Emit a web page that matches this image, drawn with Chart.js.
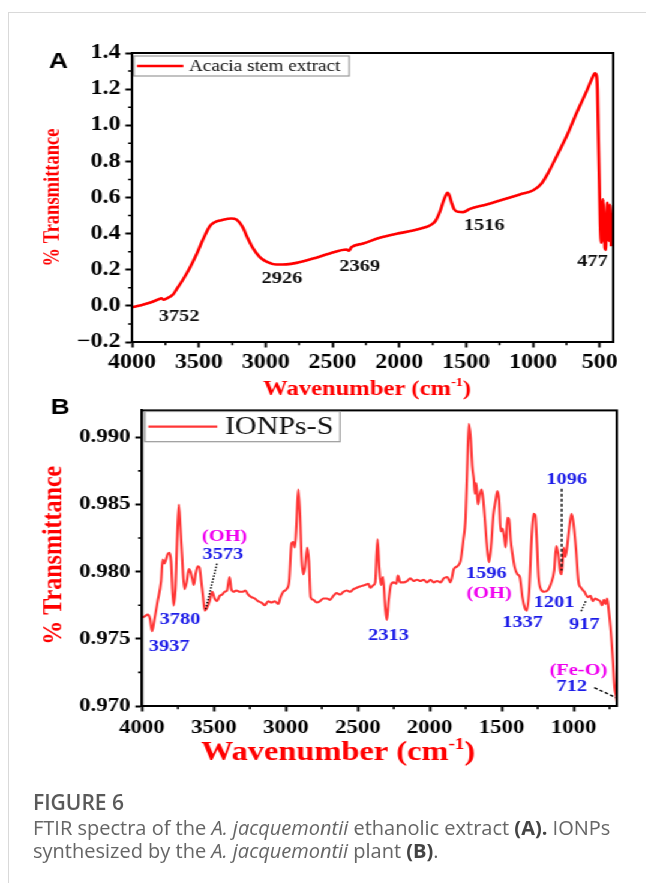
<!DOCTYPE html>
<html>
<head>
<meta charset="utf-8">
<script src="https://cdn.jsdelivr.net/npm/chart.js@4.4.1/dist/chart.umd.min.js"></script>
<style>
  html, body { margin: 0; padding: 0; background: #fff; }
  body { width: 646px; height: 883px; position: relative; overflow: hidden; }
  #ruleTop { position: absolute; left: 8px; top: 12px; width: 638px; height: 1px; background: #d9d9d9; }
  #ruleLeft { position: absolute; left: 8px; top: 12px; width: 1px; height: 871px; background: #d9d9d9; }
  #figure { position: absolute; left: 0; top: 0; width: 538px; height: 792px; transform: scaleX(1.2); transform-origin: 0 0; }
  #chartA { position: absolute; left: 0; top: 30px; }
  #chartB { position: absolute; left: 0; top: 395px; }
  #caption { position: absolute; left: 33px; top: 791px; font-family: "Open Sans", "Noto Sans", sans-serif; color: #666; font-size: 20px; line-height: 23px; }
  #caption .fig { font-weight: 600; font-size: 21px; margin-bottom: 2px; color: #5a5a5a; }
  #caption b { font-weight: 700; color: #444; }
</style>
</head>
<body>
<div id="ruleTop"></div>
<div id="ruleLeft"></div>
<div id="figure">
  <canvas id="chartA" width="538" height="370"></canvas>
  <canvas id="chartB" width="538" height="395"></canvas>
</div>
<div id="caption">
  <div class="fig">FIGURE 6</div>
  <div>FTIR spectra of the <i>A. jacquemontii</i> ethanolic extract <b>(A).</b> IONPs<br>synthesized by the <i>A. jacquemontii</i> plant <b>(B)</b>.</div>
</div>

<script>
// ---------- Panel A: Acacia stem extract ----------
const wavenumberA = [
  4000, 3942, 3868, 3805, 3780, 3763, 3743, 3693, 3668, 3618, 3568, 3518, 3469, 3418,
  3381, 3331, 3256, 3219, 3169, 3144, 3094, 3044, 2994, 2919, 2844, 2769, 2645, 2520,
  2395, 2378, 2358, 2271, 2146, 2021, 1897, 1800, 1772, 1730, 1697, 1670, 1650, 1639,
  1625, 1609, 1590, 1560, 1522, 1472, 1347, 1223, 1098, 998, 936, 886, 823, 748, 673,
  599, 561, 537, 525, 518, 512, 504, 497, 488, 482, 476, 470, 462, 456, 450, 444, 438,
  432, 428, 424, 420, 415
];
const transmittanceA = [
  -0.008, 0.002, 0.017, 0.035, 0.042, 0.034, 0.040, 0.063, 0.090, 0.146, 0.210, 0.284, 0.367, 0.441,
  0.463, 0.474, 0.484, 0.478, 0.432, 0.390, 0.318, 0.270, 0.245, 0.229, 0.230, 0.238, 0.262, 0.290,
  0.312, 0.305, 0.325, 0.345, 0.377, 0.399, 0.417, 0.437, 0.445, 0.470, 0.520, 0.580, 0.615, 0.626,
  0.610, 0.571, 0.535, 0.521, 0.519, 0.537, 0.561, 0.589, 0.617, 0.640, 0.678, 0.737, 0.829, 0.940, 1.069,
  1.189, 1.254, 1.287, 1.275, 1.200, 0.980, 0.700, 0.450, 0.350, 0.500, 0.590, 0.480, 0.320,
  0.310, 0.470, 0.570, 0.500, 0.360, 0.450, 0.560, 0.500, 0.330
];
const xTicksA = [4000, 3500, 3000, 2500, 2000, 1500, 1000, 500];
const xMinorA = [3750, 3250, 2750, 2250, 1750, 1250, 750];
const yTicksA = [-0.2, 0.0, 0.2, 0.4, 0.6, 0.8, 1.0, 1.2, 1.4];
const yMinorA = [-0.1, 0.1, 0.3, 0.5, 0.7, 0.9, 1.1, 1.3];
const peakTextA = ['3752', '2926', '2369', '1516', '477'];
const peakAtA = [[3648, -0.058], [2877, 0.151], [2296, 0.219], [1365, 0.447], [554, 0.247]];

// ---------- Panel B: IONPs-S ----------
const wavenumberB = [
  4000, 3984, 3960, 3944, 3930, 3914, 3891, 3867, 3856, 3844, 3833, 3821, 3809, 3798,
  3781, 3767, 3758, 3744, 3733, 3721, 3705, 3688, 3674, 3663, 3651, 3639, 3628, 3612,
  3600, 3588, 3577, 3563, 3549, 3530, 3512, 3495, 3479, 3460, 3442, 3426, 3409, 3391,
  3379, 3363, 3344, 3321, 3298, 3281, 3263, 3239, 3216, 3193, 3170, 3146, 3123, 3100,
  3077, 3053, 3037, 3018, 2995, 2977, 2960, 2949, 2937, 2925, 2914, 2902, 2891, 2879,
  2867, 2851, 2840, 2828, 2809, 2786, 2763, 2739, 2716, 2693, 2670, 2647, 2623, 2600,
  2577, 2553, 2530, 2507, 2484, 2449, 2426, 2414, 2391, 2379, 2363, 2351, 2339, 2325,
  2309, 2298, 2286, 2270, 2251, 2232, 2221, 2205, 2181, 2158, 2135, 2112, 2088, 2065,
  2042, 2019, 1995, 1972, 1949, 1925, 1902, 1879, 1856, 1832, 1809, 1786, 1767, 1751,
  1739, 1728, 1716, 1704, 1693, 1686, 1677, 1665, 1651, 1639, 1628, 1616, 1604, 1588,
  1572, 1558, 1542, 1530, 1518, 1507, 1495, 1483, 1472, 1460, 1449, 1437, 1425, 1409,
  1390, 1374, 1356, 1339, 1325, 1309, 1293, 1279, 1267, 1255, 1244, 1228, 1204, 1181,
  1158, 1135, 1121, 1107, 1093, 1084, 1069, 1058, 1046, 1030, 1014, 1000, 983, 967,
  949, 925, 902, 883, 867, 851, 832, 816, 802, 790, 779, 767, 758, 744, 727, 716, 704, 700
];
const transmittanceB = [
  0.9766, 0.97665, 0.9768, 0.9765, 0.97556, 0.9764, 0.9778, 0.9793, 0.9809, 0.9806, 0.9809, 0.9813, 0.9814, 0.9808,
  0.97747, 0.9788, 0.9816, 0.9850, 0.9833, 0.9811, 0.9787, 0.9793, 0.9802, 0.9800, 0.9795, 0.9790, 0.9798, 0.9804,
  0.9803, 0.9793, 0.9783, 0.9771, 0.9773, 0.9778, 0.9785, 0.9780, 0.9778, 0.9782, 0.9783, 0.9785, 0.9786, 0.9796,
  0.9787, 0.9785, 0.9786, 0.9785, 0.9785, 0.9786, 0.9783, 0.9781, 0.9780, 0.9778, 0.9777, 0.9775, 0.9778, 0.9777,
  0.9778, 0.9776, 0.9781, 0.9785, 0.9787, 0.9793, 0.9821, 0.9822, 0.9818, 0.9838, 0.9861, 0.9843, 0.9811, 0.9798,
  0.9803, 0.9818, 0.9808, 0.9781, 0.9779, 0.9777, 0.9778, 0.9780, 0.9780, 0.9779, 0.9782, 0.9784, 0.9783, 0.9785,
  0.9786, 0.9785, 0.9787, 0.9788, 0.9789, 0.9790, 0.9791, 0.9788, 0.9790, 0.9792, 0.9824, 0.9803, 0.9790, 0.9796,
  0.9773, 0.9764, 0.9778, 0.9790, 0.9792, 0.9791, 0.9797, 0.9792, 0.9792, 0.9793, 0.9795, 0.9793, 0.9794, 0.9793,
  0.9794, 0.9792, 0.9794, 0.9792, 0.9793, 0.9792, 0.9795, 0.9796, 0.9792, 0.9802, 0.9804, 0.9808, 0.9823, 0.9840,
  0.9878, 0.9910, 0.9900, 0.9878, 0.9868, 0.9858, 0.9866, 0.9850, 0.9858, 0.9861, 0.9853, 0.9838, 0.9821, 0.9807,
  0.9821, 0.9842, 0.9853, 0.9860, 0.9853, 0.9830, 0.9832, 0.9826, 0.9818, 0.9840, 0.9839, 0.9823, 0.9813, 0.9803,
  0.9798, 0.9796, 0.9781, 0.9773, 0.9771, 0.9786, 0.9823, 0.9843, 0.9842, 0.9821, 0.9796, 0.9787, 0.9785, 0.9786,
  0.9791, 0.9801, 0.9819, 0.9813, 0.9800, 0.9798, 0.9818, 0.9811, 0.9818, 0.9833, 0.9843, 0.9835, 0.9816, 0.9793,
  0.9788, 0.9785, 0.9781, 0.9782, 0.9778, 0.9780, 0.9779, 0.9778, 0.9775, 0.9779, 0.9776, 0.9780, 0.9773, 0.9759, 0.9734, 0.9714, 0.9707, 0.9703
];
const xTicksB = [4000, 3500, 3000, 2500, 2000, 1500, 1000];
const xMinorB = [3750, 3250, 2750, 2250, 1750, 1250, 750];
const yTicksB = [0.970, 0.975, 0.980, 0.985, 0.990];
const yMinorB = [0.9725, 0.9775, 0.9825, 0.9875];
const peakTextB = ['(OH)', '3573', '3780', '3937', '2313', '1596', '(OH)', '1337', '1201', '917', '1096', '(Fe-O)', '712'];
const peakAtB = [
  [3426, 0.98257], [3438, 0.98128], [3735, 0.97645], [3810, 0.97439], [2286, 0.97526],
  [1606, 0.97984], [1588, 0.97840], [1355, 0.97617], [1135, 0.97773], [925, 0.97607],
  [1048, 0.98683], [967, 0.97265], [1013, 0.97141]
];
const peakColourB = ['#f000f0', '#1c1ce8', '#1c1ce8', '#1c1ce8', '#1c1ce8', '#1c1ce8', '#f000f0',
  '#1c1ce8', '#1c1ce8', '#1c1ce8', '#1c1ce8', '#f000f0', '#1c1ce8'];
// leader lines from labels to their bands: [x1, y1, x2, y2, dash]
const leadersB = [
  [3479, 0.98059, 3558, 0.97717, [1.5, 1.5]],
  [1083, 0.98616, 1083, 0.98009, [3, 2]],
  [948, 0.97706, 913, 0.97786, [1.5, 1.5]],
  [856, 0.97137, 700, 0.97059, [3, 2]]
];

const SERIF = '"Liberation Serif", "Times New Roman", serif';

// Frame, minor ticks, legend, axis titles and band labels.
const decor = {
  id: 'decor',
  afterDraw(chart, args, o) {
    const ctx = chart.ctx;
    const a = chart.chartArea;
    const xs = chart.scales.x, ys = chart.scales.y;
    ctx.save();

    // minor tick marks
    ctx.strokeStyle = '#000';
    ctx.lineWidth = 1.6;
    ctx.beginPath();
    o.minorX.forEach(v => {
      const px = xs.getPixelForValue(v);
      ctx.moveTo(px, a.bottom); ctx.lineTo(px, a.bottom + 3.2);
    });
    o.minorY.forEach(v => {
      const py = ys.getPixelForValue(v);
      ctx.moveTo(a.left, py); ctx.lineTo(a.left - 3.2, py);
    });
    ctx.stroke();

    // box frame
    ctx.lineWidth = 2;
    ctx.strokeRect(a.left, a.top, a.right - a.left, a.bottom - a.top);

    // legend
    const ds = chart.data.datasets[0];
    const L = o.legend;
    ctx.lineWidth = 1.2;
    ctx.strokeStyle = '#9a9a9a';
    ctx.strokeRect(L.x0, L.y0, L.x1 - L.x0, L.y1 - L.y0);
    const ly = (L.y0 + L.y1) / 2;
    ctx.strokeStyle = ds.borderColor;
    ctx.lineWidth = ds.borderWidth;
    ctx.beginPath(); ctx.moveTo(L.lineFrom, ly); ctx.lineTo(L.lineTo, ly); ctx.stroke();
    ctx.fillStyle = '#111';
    ctx.font = L.size + 'px ' + SERIF;
    ctx.textAlign = 'left'; ctx.textBaseline = 'middle';
    ctx.fillText(ds.label, L.textX, ly + 1);

    // panel letter
    ctx.fillStyle = '#000';
    ctx.font = 'bold 22px "Liberation Sans", Arial, sans-serif';
    ctx.textAlign = 'center'; ctx.textBaseline = 'middle';
    ctx.fillText(o.letter.text, o.letter.x, o.letter.y);

    // y title
    ctx.save();
    ctx.translate(o.yTitle.x, (a.top + a.bottom) / 2 + o.yTitle.dy);
    ctx.rotate(-Math.PI / 2);
    ctx.fillStyle = '#ff0000';
    ctx.font = 'bold ' + o.yTitle.size + 'px ' + SERIF;
    ctx.textAlign = 'center'; ctx.textBaseline = 'middle';
    ctx.fillText('% Transmittance', 0, 0);
    ctx.restore();

    // x title with superscript
    const T = o.xTitle;
    const big = 'bold ' + T.size + 'px ' + SERIF;
    const small = 'bold ' + Math.round(T.size * 0.6) + 'px ' + SERIF;
    ctx.font = big; const w1 = ctx.measureText('Wavenumber (cm').width;
    const w3 = ctx.measureText(')').width;
    ctx.font = small; const w2 = ctx.measureText('-1').width;
    let tx = T.cx - (w1 + w2 + w3) / 2;
    ctx.fillStyle = '#ff0000';
    ctx.textAlign = 'left'; ctx.textBaseline = 'alphabetic';
    ctx.font = big; ctx.fillText('Wavenumber (cm', tx, T.base); tx += w1;
    ctx.font = small; ctx.fillText('-1', tx, T.base - T.size * 0.42); tx += w2;
    ctx.font = big; ctx.fillText(')', tx, T.base);

    // leader lines
    ctx.strokeStyle = '#000';
    ctx.lineWidth = 1.4;
    (o.leaders || []).forEach(l => {
      ctx.setLineDash(l[4]);
      ctx.beginPath();
      ctx.moveTo(xs.getPixelForValue(l[0]), ys.getPixelForValue(l[1]));
      ctx.lineTo(xs.getPixelForValue(l[2]), ys.getPixelForValue(l[3]));
      ctx.stroke();
    });
    ctx.setLineDash([]);

    // band labels
    ctx.font = 'bold ' + o.labelSize + 'px ' + SERIF;
    ctx.textAlign = 'center'; ctx.textBaseline = 'middle';
    o.labels.forEach((t, i) => {
      ctx.fillStyle = o.labelColours ? o.labelColours[i] : '#111';
      ctx.fillText(t, xs.getPixelForValue(o.labelAt[i][0]), ys.getPixelForValue(o.labelAt[i][1]));
    });
    ctx.restore();
  }
};

function axisX(min, max, ticks, height, size, pad) {
  return {
    type: 'linear', reverse: true, min: min, max: max,
    afterBuildTicks: s => { s.ticks = ticks.map(v => ({ value: v })); },
    afterFit: s => { s.height = height; },
    ticks: { autoSkip: false, maxRotation: 0, padding: pad, color: '#000',
      font: { family: SERIF, size: size, weight: 'bold' }, callback: v => String(v) },
    grid: { display: true, drawOnChartArea: false, drawTicks: true, tickLength: 5.5, tickWidth: 2, tickColor: '#000' },
    border: { display: true, color: '#000', width: 2 }
  };
}
function axisY(min, max, ticks, width, size, digits) {
  return {
    type: 'linear', min: min, max: max,
    afterBuildTicks: s => { s.ticks = ticks.map(v => ({ value: v })); },
    afterFit: s => { s.width = width; },
    ticks: { padding: 4, color: '#000', font: { family: SERIF, size: size, weight: 'bold' },
      callback: v => (v < 0 ? '\u2212' + Math.abs(v).toFixed(digits) : v.toFixed(digits)) },
    grid: { display: true, drawOnChartArea: false, drawTicks: true, tickLength: 5.5, tickWidth: 2, tickColor: '#000' },
    border: { display: true, color: '#000', width: 2 }
  };
}

new Chart(document.getElementById('chartA'), {
  type: 'line',
  data: {
    datasets: [{
      label: 'Acacia stem extract',
      data: wavenumberA.map((w, i) => ({ x: w, y: transmittanceA[i] })),
      borderColor: '#ff0000', borderWidth: 2.6, pointRadius: 0,
      cubicInterpolationMode: 'monotone', fill: false
    }]
  },
  options: {
    responsive: false, animation: false, devicePixelRatio: 1,
    layout: { padding: { top: 23, right: 27, left: 0, bottom: 0 } },
    scales: {
      x: axisX(400, 4000, xTicksA, 58, 20, 3),
      y: axisY(-0.2, 1.4, yTicksA, 110, 20, 1)
    },
    plugins: {
      legend: { display: false }, tooltip: { enabled: false },
      decor: {
        minorX: xMinorA, minorY: yMinorA,
        legend: { x0: 111.7, y0: 26, x1: 291, y1: 46, lineFrom: 114.2, lineTo: 152.8, textX: 157.5, size: 16 },
        letter: { text: 'A', x: 48.6, y: 31.7 },
        yTitle: { x: 44, dy: 0, size: 18.5 },
        xTitle: { cx: 306, base: 365, size: 20.5 },
        labels: peakTextA, labelAt: peakAtA, labelSize: 17
      }
    }
  },
  plugins: [decor]
});

new Chart(document.getElementById('chartB'), {
  type: 'line',
  data: {
    datasets: [{
      label: 'IONPs-S',
      data: wavenumberB.map((w, i) => ({ x: w, y: transmittanceB[i] })),
      borderColor: '#ff3636', borderWidth: 2.1, pointRadius: 0,
      cubicInterpolationMode: 'monotone', fill: false
    }]
  },
  options: {
    responsive: false, animation: false, devicePixelRatio: 1,
    layout: { padding: { top: 15, right: 24, left: 0, bottom: 0 } },
    scales: {
      x: axisX(700, 4000, xTicksB, 84, 19, 5),
      y: axisY(0.970, 0.992, yTicksB, 118.3, 19, 3)
    },
    plugins: {
      legend: { display: false }, tooltip: { enabled: false },
      decor: {
        minorX: xMinorB, minorY: yMinorB,
        legend: { x0: 120.8, y0: 16.5, x1: 283.3, y1: 46.7, lineFrom: 123.6, lineTo: 181.1, textX: 187.5, size: 25 },
        letter: { text: 'B', x: 50.2, y: 13.3 },
        yTitle: { x: 45, dy: -3, size: 24 },
        xTitle: { cx: 281.7, base: 365, size: 27 },
        labels: peakTextB, labelAt: peakAtB, labelColours: peakColourB, labelSize: 17,
        leaders: leadersB
      }
    }
  },
  plugins: [decor]
});
</script>
</body>
</html>
